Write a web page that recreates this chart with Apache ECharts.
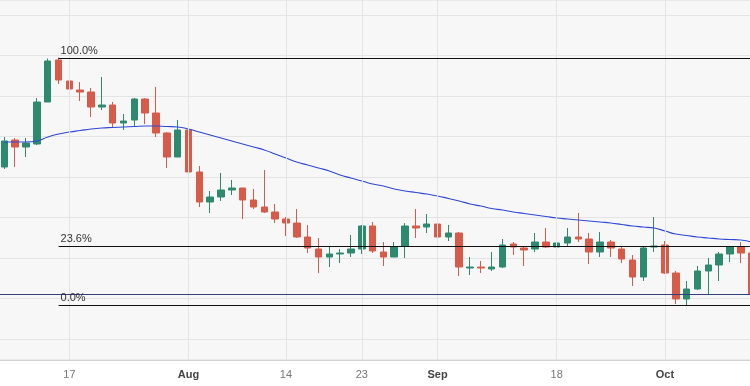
<!DOCTYPE html>
<html>
<head>
<meta charset="utf-8">
<script src="https://cdn.jsdelivr.net/npm/echarts@6/dist/echarts.min.js"></script>
<style>
html,body{margin:0;padding:0;background:#ffffff;overflow:hidden;width:750px;height:386px;}
#chart{position:absolute;left:-1px;top:0;width:758px;height:386px;}
</style>
</head>
<body>
<div id="chart"></div>
<script>
// Trading days (categories)
var dates = [
'2023-07-07','2023-07-10','2023-07-11','2023-07-12','2023-07-13','2023-07-14','2023-07-17','2023-07-18','2023-07-19','2023-07-20','2023-07-21','2023-07-24','2023-07-25','2023-07-26','2023-07-27','2023-07-28','2023-07-31',
'2023-08-01','2023-08-02','2023-08-03','2023-08-04','2023-08-07','2023-08-08','2023-08-09','2023-08-10','2023-08-11','2023-08-14','2023-08-15','2023-08-16','2023-08-17','2023-08-18','2023-08-21','2023-08-22','2023-08-23','2023-08-24','2023-08-25','2023-08-28','2023-08-29','2023-08-30','2023-08-31',
'2023-09-01','2023-09-04','2023-09-05','2023-09-06','2023-09-07','2023-09-08','2023-09-11','2023-09-12','2023-09-13','2023-09-14','2023-09-15','2023-09-18','2023-09-19','2023-09-20','2023-09-21','2023-09-22','2023-09-25','2023-09-26','2023-09-27','2023-09-28','2023-09-29',
'2023-10-02','2023-10-03','2023-10-04','2023-10-05','2023-10-06','2023-10-09','2023-10-10','2023-10-11','2023-10-12'
];

// [open, close, low, high]
var ohlc = [
[1.3033,1.3059,1.3031,1.3063],[1.3060,1.3053,1.3033,1.3062],[1.3053,1.3057,1.3043,1.3062],[1.3056,1.3098,1.3055,1.3102],
[1.3098,1.3139,1.3098,1.31415],[1.3140,1.3120,1.3116,1.31425],[1.3119,1.3111,1.3098,1.3126],[1.3110,1.3108,1.3099,1.3118],
[1.3108,1.3093,1.3083,1.3112],[1.3093,1.3095,1.3090,1.3123],[1.3095,1.3077,1.3073,1.3098],[1.3077,1.3079,1.3070,1.3086],
[1.3080,1.3101,1.3074,1.3102],[1.3101,1.3087,1.3076,1.3102],[1.3087,1.3067,1.3063,1.3113],[1.3067,1.3043,1.3032,1.3068],
[1.3043,1.3070,1.3043,1.3080],[1.3070,1.3028,1.3023,1.3072],[1.3028,1.2998,1.2993,1.3034],[1.2998,1.3003,1.2987,1.3009],
[1.3003,1.3010,1.2999,1.3027],[1.3010,1.3012,1.3005,1.3020],[1.3012,1.3000,1.2981,1.3012],[1.3000,1.2993,1.2991,1.3011],
[1.2993,1.2988,1.2987,1.3030],[1.2988,1.2981,1.2977,1.2996],[1.2981,1.2977,1.2964,1.2983],[1.2977,1.2963,1.2962,1.2991],
[1.2963,1.2952,1.2947,1.2975],[1.2951,1.2943,1.2927,1.2962],[1.2943,1.2946,1.2933,1.2954],[1.2946,1.2947,1.2937,1.2951],
[1.2947,1.2951,1.2943,1.2965],[1.2951,1.2974,1.2946,1.2975],[1.2974,1.2949,1.2947,1.2978],[1.2948,1.2943,1.2934,1.2958],
[1.2943,1.2953,1.2943,1.2958],[1.2954,1.2974,1.2942,1.2977],[1.2974,1.2972,1.2962,1.2991],[1.2973,1.2976,1.2967,1.2986],
[1.2976,1.2963,1.2958,1.2991],[1.2963,1.2967,1.2959,1.2975],[1.2967,1.2933,1.2924,1.2968],[1.2932,1.2933,1.2925,1.2943],
[1.2933,1.2932,1.2927,1.2939],[1.2931,1.2933,1.2929,1.2948],[1.2933,1.2955,1.2932,1.2961],[1.2956,1.2953,1.2945,1.2958],
[1.2952,1.2950,1.2934,1.2954],[1.2951,1.2958,1.2948,1.2967],[1.2958,1.2953,1.2952,1.2972],[1.2953,1.2957,1.2948,1.2962],
[1.2957,1.2963,1.2953,1.2972],[1.2963,1.2961,1.2958,1.2987],[1.2961,1.2948,1.2936,1.2967],[1.2948,1.2958,1.2943,1.2968],
[1.2958,1.2952,1.2943,1.2960],[1.2951,1.2941,1.2937,1.2953],[1.2940,1.2923,1.2914,1.2945],[1.2923,1.2952,1.2919,1.2953],
[1.2953,1.2954,1.2948,1.2983],[1.2955,1.2927,1.2926,1.2959],[1.2927,1.2901,1.2896,1.2929],[1.2901,1.2911,1.28945,1.2919],
[1.2911,1.2929,1.2910,1.2934],[1.2929,1.2935,1.2906,1.2942],[1.2935,1.2946,1.2919,1.2948],[1.2946,1.2953,1.2938,1.2954],
[1.2953,1.2947,1.2937,1.2958],[1.2947,1.2906,1.2904,1.2950]
];

// Moving average values read per bar
var maValues = [
1.3058,1.3058,1.3058,1.3059,1.3063,1.3066,1.3068,1.30695,1.3071,1.3072,1.30725,1.3073,1.30735,1.3074,1.3074,1.30735,
1.3073,1.3071,1.3068,1.3065,1.3062,1.3059,1.3056,1.3053,1.3050,1.3046,1.3042,1.3038,1.3035,1.3032,1.3029,1.3025,
1.3022,1.3019,1.3016,1.3014,1.3011,1.3009,1.30075,1.3006,1.3004,1.30015,1.2999,1.2996,1.2994,1.29915,1.2990,1.2988,
1.29865,1.2985,1.29835,1.2982,1.2981,1.2980,1.2979,1.2978,1.2977,1.29755,1.2974,1.2973,1.2972,1.2969,1.2966,1.29645,
1.2963,1.2962,1.2961,1.29605,1.2960,1.2958
];

// Tick labels on the time axis
var tickDates  = ['2023-07-17','2023-08-01','2023-08-14','2023-08-23','2023-09-01','2023-09-18','2023-10-02'];
var tickLabels = ['17','Aug','14','23','Sep','18','Oct'];
var monthTicks = ['Aug','Sep','Oct'];

// Fibonacci retracement levels
var fibNames  = ['100.0%','23.6%','0.0%'];
var fibValues = [1.3142, 1.2954, 1.28947];
var fibStart = '2023-07-14';

// Last price line
var lastPrice = 1.2906;

var chart = echarts.init(document.getElementById('chart'), null, {renderer:'canvas'});

var vLines = tickDates.map(function(d){ return {xAxis: d}; });

var fibData = fibValues.map(function(v, i){
  return [
    {coord: [fibStart, v], label: {formatter: fibNames[i]}},
    {coord: [dates[dates.length-1], v]}
  ];
});

var font = 'Liberation Sans, Arial, sans-serif';

var option = {
  animation: false,
  backgroundColor: '#ffffff',
  grid: [
    {left: 0, right: 0, top: 0, bottom: 26, show: true, backgroundColor: '#f7f7f7', borderColor: '#dcdcdc', borderWidth: 1},
    {left: 0, right: 0, top: 15, bottom: 47, show: false}
  ],
  xAxis: [{
    type: 'category',
    gridIndex: 0,
    data: dates,
    boundaryGap: true,
    axisLine: {show: true, lineStyle: {color: '#d0d0d0'}},
    axisTick: {show: false},
    splitLine: {show: false},
    axisLabel: {
      interval: function(idx, val){ return tickDates.indexOf(val) >= 0; },
      formatter: function(val){
        var t = tickLabels[tickDates.indexOf(val)];
        return monthTicks.indexOf(t) >= 0 ? '{m|' + t + '}' : '{d|' + t + '}';
      },
      margin: 9,
      rich: {
        m: {color: '#444', fontSize: 11, fontWeight: 'bold', fontFamily: font},
        d: {color: '#777', fontSize: 11, fontFamily: font}
      }
    }
  }, {
    type: 'value', gridIndex: 1, min: 0, max: 1, show: false
  }],
  yAxis: [{
    type: 'value',
    gridIndex: 0,
    min: 1.2840,
    max: 1.3200,
    axisLabel: {show: false},
    axisLine: {show: false},
    axisTick: {show: false},
    splitLine: {show: false}
  }, {
    type: 'value',
    gridIndex: 1,
    min: 0, max: 8, interval: 1,
    axisLabel: {show: false},
    axisLine: {show: false},
    axisTick: {show: false},
    splitLine: {show: true, lineStyle: {color: '#e4e4e4', width: 1}}
  }],
  series: [
    {
      type: 'line',
      data: [],
      z: 1,
      silent: true,
      markLine: {
        silent: true,
        symbol: ['none','none'],
        label: {show: false},
        lineStyle: {color: '#e4e4e4', width: 1, type: 'solid'},
        data: vLines
      }
    },
    {
      type: 'candlestick',
      data: ohlc,
      z: 3,
      barWidth: 7,
      itemStyle: {
        color: '#2e8a6e', color0: '#d85a48',
        borderColor: '#2e8a6e', borderColor0: '#d85a48',
        borderWidth: 1
      }
    },
    {
      type: 'line',
      data: maValues,
      z: 4,
      smooth: true,
      symbol: 'none',
      lineStyle: {color: '#3048d6', width: 1.2},
      markLine: {
        silent: true,
        precision: 6,
        symbol: ['none','none'],
        label: {show: false},
        lineStyle: {color: '#33407a', width: 1, type: 'solid'},
        data: [{yAxis: lastPrice}]
      }
    },
    {
      type: 'line',
      data: [],
      z: 5,
      silent: true,
      markLine: {
        silent: true,
        precision: 6,
        symbol: ['none','none'],
        lineStyle: {color: '#111111', width: 1.2, type: 'solid'},
        label: {show: true, position: 'insideStartTop', distance: [2, 2], color: '#333', fontSize: 11, fontFamily: font},
        data: fibData
      }
    }
  ]
};
chart.setOption(option);
</script>
</body>
</html>
